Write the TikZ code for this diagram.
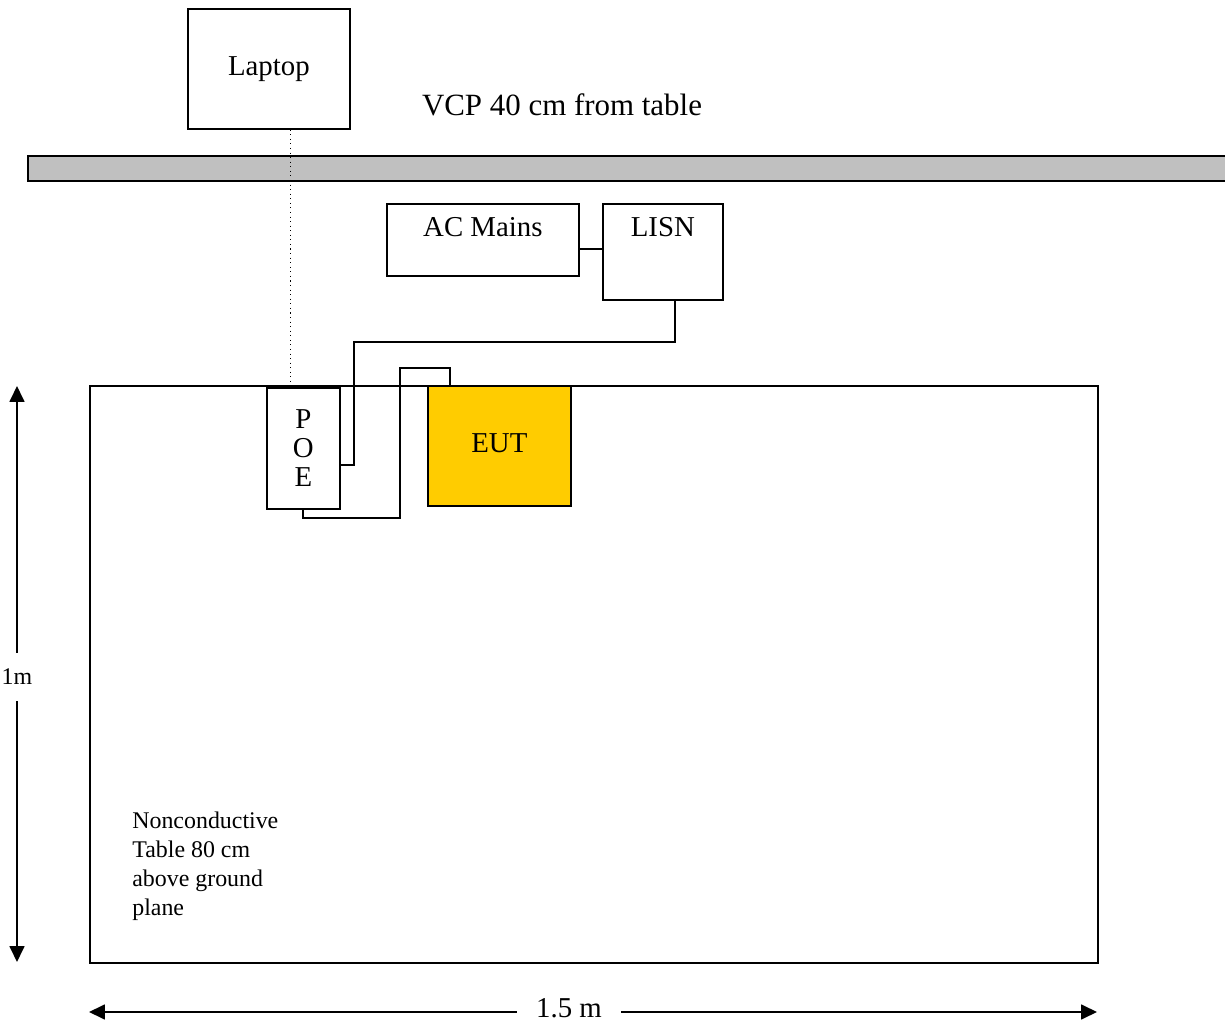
\documentclass[tikz,border=0pt]{standalone}
\usepackage{fontspec}
\setmainfont{Liberation Serif}
\usepackage{xcolor}
\usetikzlibrary{arrows.meta, positioning, calc}
\definecolor{eutyellow}{HTML}{FFCC00}
\definecolor{vcpgrey}{HTML}{C0C0C0}
\tikzset{
    box/.style={rectangle, draw=black, line width=1pt, fill=white, inner sep=0pt,
                anchor=north west, font=\fontsize{16.4}{19}\selectfont},
    toplabel/.style={label={[anchor=north, inner sep=0pt, yshift=-0.28cm,
                font=\fontsize{16.4}{19}\selectfont]north:#1}},
    wire/.style={line width=1pt, draw=black},
    dotline/.style={line width=0.6pt, dotted, draw=black},
    dimarrow/.style={-{Triangle[length=0.32cm, width=0.3cm]}, line width=1pt},
    note/.style={font=\fontsize{13.6}{16.4}\selectfont, inner sep=0pt}
}

\begin{document}
\begin{tikzpicture}[x=0.02cm, y=-0.02cm]
  \useasboundingbox (0,0) rectangle (1225,1023);

  % --- Vertical coupling plane ---
  \node[box, fill=vcpgrey, minimum width=24.3cm, minimum height=0.5cm] (vcp) at (27,155) {};
  \node[font=\fontsize{17.6}{20}\selectfont] (vcptext) at (562,105) {VCP 40 cm from table};

  % --- Laptop ---
  \node[box, minimum width=3.24cm, minimum height=2.4cm] (laptop) at (187,8)
        {\raisebox{2pt}{Laptop}};

  % --- Mains side ---
  \node[box, minimum width=3.84cm, minimum height=1.44cm, toplabel={AC Mains}] (mains) at (386,203) {};
  \node[box, minimum width=2.4cm, minimum height=1.92cm, toplabel={LISN}] (lisn) at (602,203) {};

  % --- Table ---
  \node[box, minimum width=20.16cm, minimum height=11.54cm] (table) at (89,385) {};
  \node[note, anchor=north west, align=left] (tablenote) at (132,812)
        {Nonconductive\\Table 80 cm\\above ground\\plane};

  % --- Units on the table ---
  \node[box, minimum width=1.46cm, minimum height=2.42cm, align=center,
        font=\fontsize{16.4}{16.5}\selectfont] (poe) at (266,387) {P\\O\\E};
  \node[box, fill=eutyellow, minimum width=2.86cm, minimum height=2.4cm] (eut) at (427,385)
        {\raisebox{3pt}{EUT}};

  % --- Cables ---
  \coordinate (mainsbend) at (354,342);
  \coordinate (eutloop) at (400,368);
  \draw[wire] ([yshift=-0.18cm]mains.east) -- ([yshift=-0.18cm]mains.east -| lisn.west);
  \draw[wire] ([xshift=0.24cm]lisn.south) |- (mainsbend) |- ([yshift=-0.33cm]poe.east);
  \draw[wire] ([xshift=-0.98cm]eut.north) |- (eutloop) |- ([yshift=-0.16cm]poe.south) -- (poe.south);
  \draw[dotline] ([xshift=0.44cm]laptop.south) -- ([xshift=0.44cm]laptop.south |- table.north);

  % --- Dimensions ---
  \node[note, inner xsep=0pt, inner ysep=0.32cm] (height) at (17,677) {1m};
  \coordinate (htop) at (17,386);
  \coordinate (hbot) at (17,962);
  \draw[dimarrow] (height) -- (htop);
  \draw[dimarrow] (height) -- (hbot);

  \node[font=\fontsize{16.4}{19}\selectfont, inner xsep=0.38cm, inner ysep=0pt] (width) at (569,1008) {1.5 m};
  \coordinate (wleft) at (89,1012);
  \coordinate (wright) at (1097,1012);
  \draw[dimarrow] (width.west |- wleft) -- (wleft);
  \draw[dimarrow] (width.east |- wright) -- (wright);

\end{tikzpicture}
\end{document}
